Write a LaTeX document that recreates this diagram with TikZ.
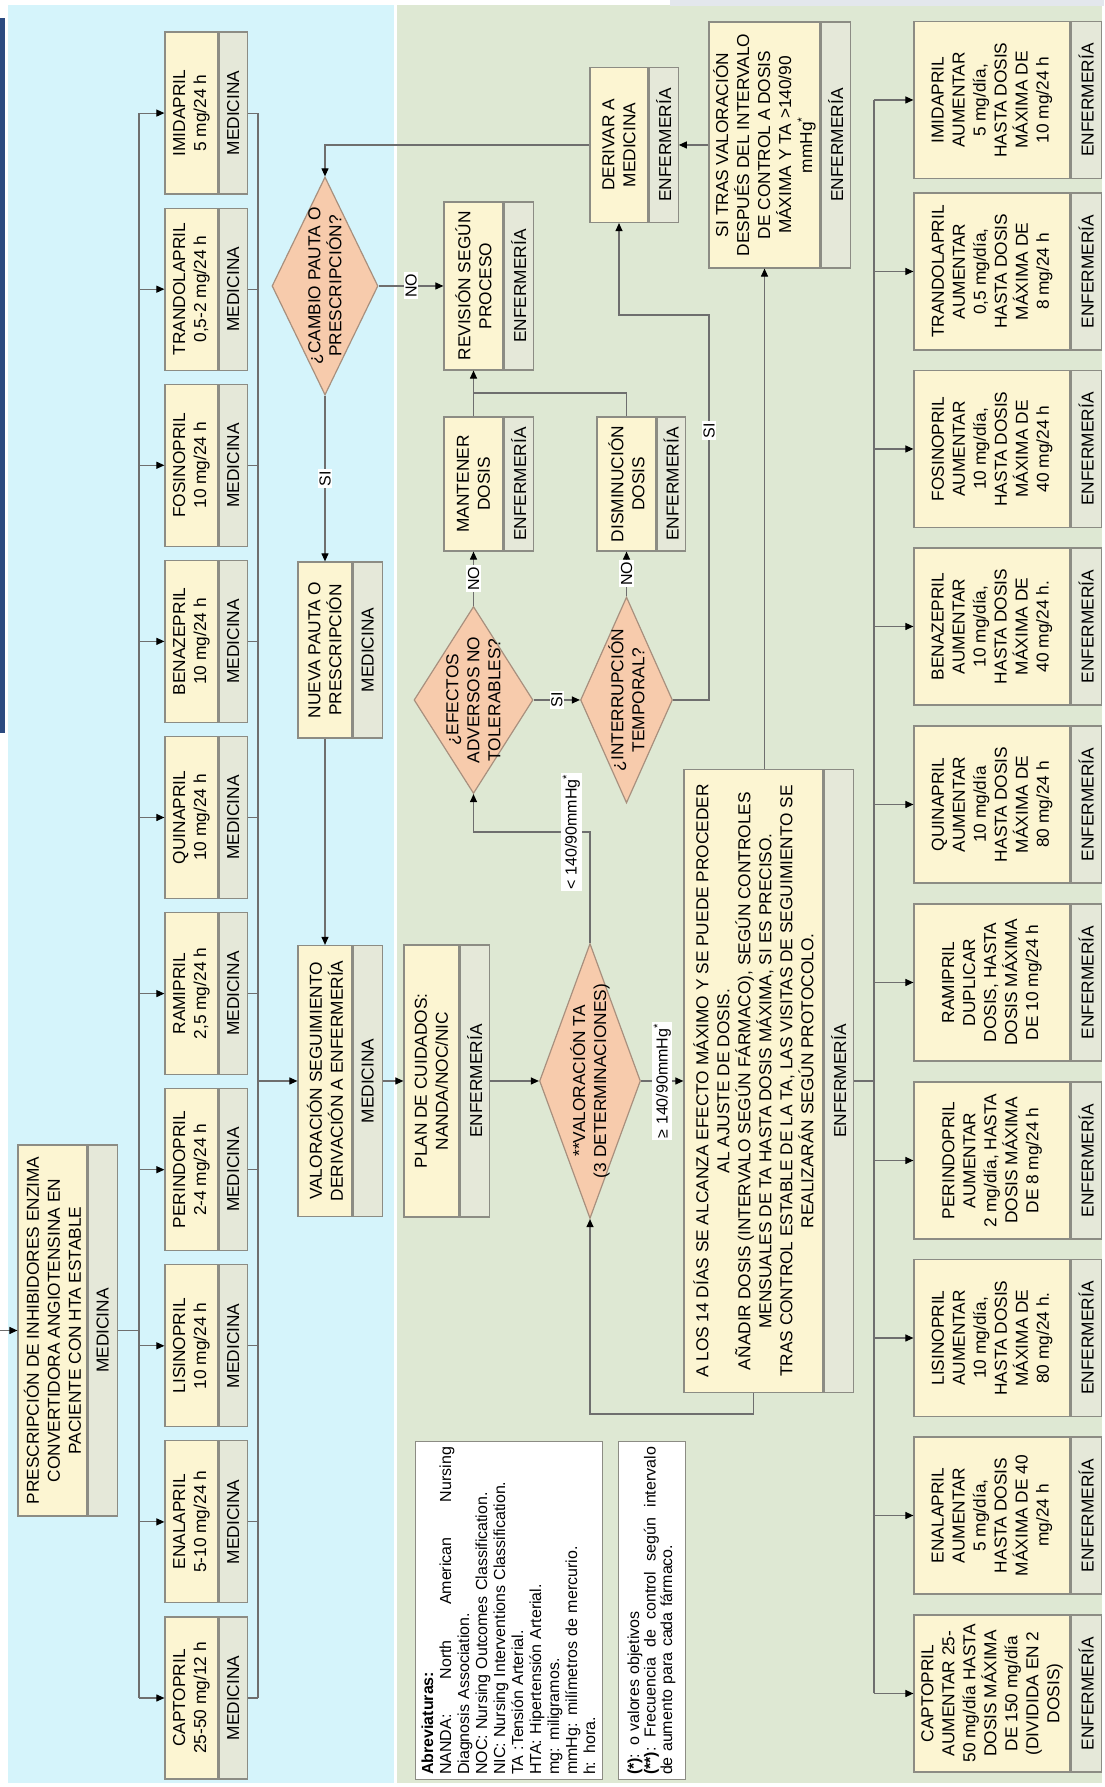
\documentclass[tikz,border=0pt]{standalone}
\usepackage{fontspec}
\setmainfont{Liberation Sans}
\usetikzlibrary{arrows.meta,shapes.geometric}
\definecolor{bluebg}{HTML}{D5F4FB}
\definecolor{greenbg}{HTML}{DEE8D3}
\definecolor{boxfill}{HTML}{FCF5D2}
\definecolor{bandfill}{HTML}{E5E8D9}
\definecolor{boxline}{HTML}{8C8C84}
\definecolor{diafill}{HTML}{F7CBAC}
\definecolor{dialine}{HTML}{A8907E}
\definecolor{conn}{HTML}{6E6E6E}
\definecolor{navybar}{HTML}{2B4A80}
\definecolor{topstrip}{HTML}{E3E7ED}
\tikzset{
  txt/.style={font=\fontsize{17.3}{21}\selectfont, align=center},
  tbox/.style={txt, draw=boxline, line width=1.2pt, fill=boxfill, inner sep=0pt},
  rband/.style={txt, draw=boxline, line width=1.2pt, fill=bandfill, inner sep=0pt},
  dia/.style={diamond, draw=dialine, line width=1.2pt, fill=diafill, inner sep=0pt},
  ln/.style={draw=conn, line width=1.1pt},
  arr/.style={ln, -{Triangle[length=8pt,width=7pt,black]}},
  lbl/.style={fill=white, inner sep=1.5pt, font=\fontsize{16}{18}\selectfont},
  note/.style={draw=boxline, line width=1pt, fill=white, inner sep=0pt, text width=328pt, align=left},
}
% name, X centre, Y top, width, text height, band height, text, role
\newcommand\rbox[8]{%
  \node[tbox, minimum width=#4pt, minimum height=#5pt] (#1) at (#2,{#3+#5/2}) {#7};
  \node[rband, minimum width=#4pt, minimum height=#6pt, anchor=north] (#1-r) at (#1.south) {#8};
}
\begin{document}
\begin{tikzpicture}
\begin{scope}[rotate=90, transform shape, x=1pt, y=-1pt]
\useasboundingbox (0,0) rectangle (1787,1104);
\fill[white] (0,0) rectangle (1787,1104);
\fill[bluebg] (4,8) rectangle (1782,394);
\fill[greenbg] (4,397) rectangle (1782,1102);
\fill[navybar] (1054,0) rectangle (1769,5);
\fill[topstrip] (1781,670) rectangle (1787,1104);

% ---------- title ----------
\rbox{title}{456.5}{18}{371}{69}{29}{PRESCRIPCIÓN DE INHIBIDORES ENZIMA\\CONVERTIDORA ANGIOTENSINA EN\\PACIENTE CON HTA ESTABLE}{MEDICINA}

% ---------- MEDICINA drug boxes ----------
\rbox{capm}{89.0}{165}{162}{53}{28}{CAPTOPRIL\\25-50 mg/12 h}{MEDICINA}
\rbox{enam}{265.1}{165}{162}{53}{28}{ENALAPRIL\\5-10 mg/24 h}{MEDICINA}
\rbox{lism}{441.2}{165}{162}{53}{28}{LISINOPRIL\\10 mg/24 h}{MEDICINA}
\rbox{perm}{617.3}{165}{162}{53}{28}{PERINDOPRIL\\2-4 mg/24 h}{MEDICINA}
\rbox{ramm}{793.4}{165}{162}{53}{28}{RAMIPRIL\\2,5 mg/24 h}{MEDICINA}
\rbox{quim}{969.5}{165}{162}{53}{28}{QUINAPRIL\\10 mg/24 h}{MEDICINA}
\rbox{benm}{1145.6}{165}{162}{53}{28}{BENAZEPRIL\\10 mg/24 h}{MEDICINA}
\rbox{fosm}{1321.7}{165}{162}{53}{28}{FOSINOPRIL\\10 mg/24 h}{MEDICINA}
\rbox{tram}{1497.8}{165}{162}{53}{28}{TRANDOLAPRIL\\0,5-2 mg/24 h}{MEDICINA}
\rbox{imim}{1673.9}{165}{162}{53}{28}{IMIDAPRIL\\5 mg/24 h}{MEDICINA}

% ---------- middle column ----------
\rbox{valor}{706}{298}{271}{54}{29}{VALORACIÓN SEGUIMIENTO\\DERIVACIÓN A ENFERMERÍA}{MEDICINA}
\rbox{nueva}{1137}{298}{176}{54}{29}{NUEVA PAUTA O\\PRESCRIPCIÓN}{MEDICINA}
\rbox{plan}{706}{404}{272}{55}{29}{PLAN DE CUIDADOS:\\NANDA/NOC/NIC}{ENFERMERÍA}
\rbox{revis}{1501}{444}{168}{59}{29}{REVISIÓN SEGÚN\\PROCESO}{ENFERMERÍA}
\rbox{mant}{1303}{444}{134}{59}{29}{MANTENER\\DOSIS}{ENFERMERÍA}
\rbox{dism}{1303}{597}{134}{59}{28}{DISMINUCIÓN\\DOSIS}{ENFERMERÍA}
\rbox{deriv}{1642}{590}{155}{58}{29}{DERIVAR A\\MEDICINA}{ENFERMERÍA}
\rbox{sitras}{1642}{709}{246}{111}{29}{SI TRAS VALORACIÓN\\DESPUÉS DEL INTERVALO\\DE CONTROL A DOSIS\\MÁXIMA Y TA >140/90\\mmHg\textsuperscript{*}}{ENFERMERÍA}
\rbox{alos}{706}{684}{623}{139}{29}{A LOS 14 DÍAS SE ALCANZA EFECTO MÁXIMO Y SE PUEDE PROCEDER\\AL AJUSTE DE DOSIS.\\AÑADIR DOSIS (INTERVALO SEGÚN FÁRMACO), SEGÚN CONTROLES\\MENSUALES DE TA  HASTA DOSIS MÁXIMA, SI ES PRECISO.\\TRAS CONTROL ESTABLE DE LA TA, LAS VISITAS DE SEGUIMIENTO SE\\REALIZARÁN SEGÚN PROTOCOLO.}{ENFERMERÍA}

% ---------- decisions ----------
\node[dia, minimum width=218pt, minimum height=106pt] (cambio) at (1501,325) {};
\node[txt] (cambio-t) at (cambio.center) {¿CAMBIO PAUTA O\\PRESCRIPCIÓN?};
\node[dia, minimum width=275pt, minimum height=101pt] (ta) at (706,590) {};
\node[txt] (ta-t) at (ta.center) {**VALORACIÓN TA\\(3 DETERMINACIONES)};
\node[dia, minimum width=187pt, minimum height=119pt] (efec) at (1087,473.5) {};
\node[txt] (efec-t) at (efec.center) {¿EFECTOS\\ADVERSOS NO\\TOLERABLES?};
\node[dia, minimum width=206pt, minimum height=92pt] (inter) at (1087,626.5) {};
\node[txt] (inter-t) at (inter.center) {¿INTERRUPCIÓN\\TEMPORAL?};

% ---------- ENFERMERÍA drug boxes ----------
\rbox{cape}{93.5}{914}{157}{156}{30}{CAPTOPRIL\\AUMENTAR 25-\\50 mg/día HASTA\\DOSIS MÁXIMA\\DE 150 mg/día\\(DIVIDIDA EN 2\\DOSIS)}{ENFERMERÍA}
\rbox{enae}{271.5}{914}{157}{156}{30}{ENALAPRIL\\AUMENTAR\\5 mg/día,\\HASTA DOSIS\\MÁXIMA DE 40\\mg/24 h}{ENFERMERÍA}
\rbox{lise}{449}{914}{157}{156}{30}{LISINOPRIL\\AUMENTAR\\10 mg/día,\\HASTA DOSIS\\MÁXIMA DE\\80 mg/24 h.}{ENFERMERÍA}
\rbox{pere}{626.5}{914}{157}{156}{30}{PERINDOPRIL\\AUMENTAR\\2 mg/día, HASTA\\DOSIS MÁXIMA\\DE 8 mg/24 h}{ENFERMERÍA}
\rbox{rame}{804.5}{914}{157}{156}{30}{RAMIPRIL\\DUPLICAR\\DOSIS, HASTA\\DOSIS MÁXIMA\\DE 10 mg/24 h}{ENFERMERÍA}
\rbox{quie}{982.5}{914}{157}{156}{30}{QUINAPRIL\\AUMENTAR\\10 mg/día\\HASTA DOSIS\\MÁXIMA DE\\80 mg/24 h}{ENFERMERÍA}
\rbox{bene}{1160.5}{914}{157}{156}{30}{BENAZEPRIL\\AUMENTAR\\10 mg/día,\\HASTA DOSIS\\MÁXIMA DE\\40 mg/24 h.}{ENFERMERÍA}
\rbox{fose}{1338}{914}{157}{156}{30}{FOSINOPRIL\\AUMENTAR\\10 mg/día,\\HASTA DOSIS\\MÁXIMA DE\\40 mg/24 h}{ENFERMERÍA}
\rbox{trae}{1515.5}{914}{157}{156}{30}{TRANDOLAPRIL\\AUMENTAR\\0,5 mg/día,\\HASTA DOSIS\\MÁXIMA DE\\8 mg/24 h}{ENFERMERÍA}
\rbox{imie}{1687}{914}{157}{156}{30}{IMIDAPRIL\\AUMENTAR\\5 mg/día,\\HASTA DOSIS\\MÁXIMA DE\\10 mg/24 h}{ENFERMERÍA}

% ---------- notes ----------
\node[note, minimum width=338pt, minimum height=187pt, font=\fontsize{16}{18}\selectfont] (abrev) at (176,508.5) {%
\textbf{Abreviaturas:}\\
NANDA:\hfill North\hfill American\hfill Nursing\\
Diagnosis Association.\\
NOC: Nursing Outcomes Classification.\\
NIC: Nursing Interventions Classification.\\
TA :Tensión Arterial.\\
HTA: Hipertensión Arterial.\\
mg: miligramos.\\
mmHg: milímetros de mercurio.\\
h: hora.};
\node[note, minimum width=338pt, minimum height=67pt, font=\fontsize{16}{16.5}\selectfont] (leyenda) at (176,651.5) {%
\textbf{(*)}: o valores objetivos\\
\textbf{(**)}:\hfill Frecuencia\hfill de\hfill control\hfill según\hfill intervalo\\
de aumento para cada fármaco.};

% ---------- connectors ----------
\coordinate (inpt) at (456.5,0);
\draw[arr] (inpt) -- (title.north);
\coordinate (busT) at (456.5,139);
\draw[ln] (title-r.south) -- (busT);
\draw[ln] (89.0,139) -- (1673.9,139);
\draw[ln] (89.0,258) -- (1673.9,258);
\foreach \n/\X in {capm/89.0, enam/265.1, lism/441.2, perm/617.3, ramm/793.4, quim/969.5, benm/1145.6, fosm/1321.7, tram/1497.8, imim/1673.9}{
  \draw[arr] (\X,139) -- (\n.north);
  \draw[ln] (\n-r.south) -- (\X,258);
}
\coordinate (busM) at (706,258);
\draw[arr] (busM) -- (valor.north);
\draw[arr] (nueva.west) -- (valor.east);
\draw[arr] (cambio.west) -- node[lbl]{SI} (nueva.east);
\draw[arr] (cambio.south) -- node[lbl]{NO} (revis.north);
\draw[arr] (deriv.north) -- (1642,325) -- (cambio.east);
\draw[arr] (sitras.north) -- (deriv-r.south);
\coordinate (alosup) at (1017.5,764.5);
\draw[arr] (alosup) -- (sitras.west);
\draw[arr] (valor-r.south) -- (plan.north);
\draw[arr] (plan-r.south) -- (ta.north);
\draw[arr] (ta.south) -- node[lbl]{≥ 140/90mmHg\textsuperscript{*}} (alos.north);
\draw[arr] (ta.east) -- (955,590) -- node[lbl, pos=0.16]{< 140/90mmHg\textsuperscript{*}} (955,473.5) -- (efec.west);
\draw[arr] (efec.east) -- node[lbl]{NO} (mant.west);
\draw[arr] (efec.south) -- node[lbl]{SI} (inter.north);
\draw[arr] (inter.east) -- node[lbl]{NO} (dism.west);
\draw[arr] (inter.south) -- (1087,709) -- node[lbl, pos=0.7]{SI} (1472,709) -- (1472,619) -- (deriv.west);
\draw[arr] (mant.east) -- (revis.west);
\draw[ln] (dism.east) -- (1394,626.5) -- (1394,473.5);
\draw[arr] (alos.west) -- (373,753.5) -- (373,590) -- (ta.west);
\coordinate (busE) at (706,874);
\draw[ln] (alos-r.south) -- (busE);
\draw[ln] (93.5,874) -- (1687,874);
\foreach \n/\X in {cape/93.5, enae/271.5, lise/449, pere/626.5, rame/804.5, quie/982.5, bene/1160.5, fose/1338, trae/1515.5, imie/1687}{
  \draw[arr] (\X,874) -- (\n.north);
}
\end{scope}
\end{tikzpicture}
\end{document}
